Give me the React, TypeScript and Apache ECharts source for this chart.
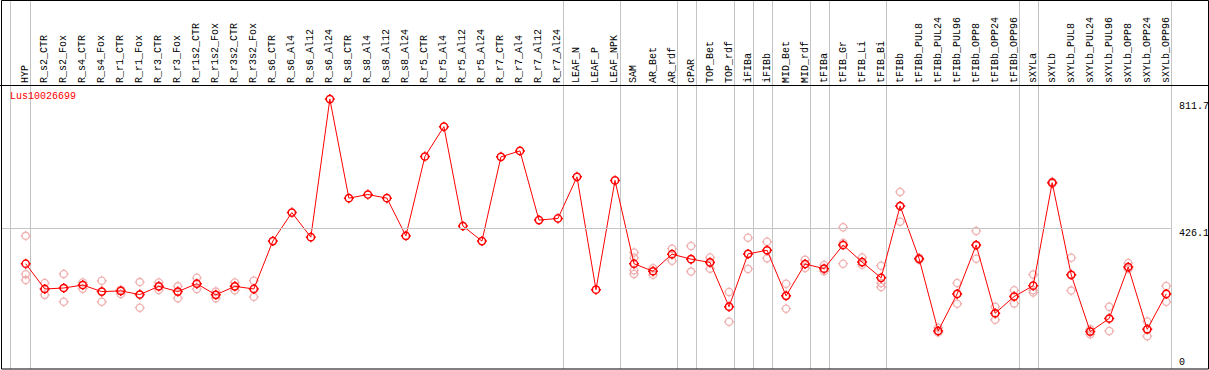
import React, { useEffect, useRef } from "react";
import * as echarts from "echarts";

const categories = [
  "HYP", "R_s2_CTR", "R_s2_Fox", "R_s4_CTR", "R_s4_Fox", "R_r1_CTR", "R_r1_Fox", "R_r3_CTR", "R_r3_Fox",
  "R_r1s2_CTR", "R_r1s2_Fox", "R_r3s2_CTR", "R_r3s2_Fox",
  "R_s6_CTR", "R_s6_Al4", "R_s6_Al12", "R_s6_Al24", "R_s8_CTR", "R_s8_Al4", "R_s8_Al12", "R_s8_Al24",
  "R_r5_CTR", "R_r5_Al4", "R_r5_Al12", "R_r5_Al24", "R_r7_CTR", "R_r7_Al4", "R_r7_Al12", "R_r7_Al24",
  "LEAF_N", "LEAF_P", "LEAF_NPK", "SAM", "AR_Bet", "AR_rdf", "cPAR", "TOP_Bet", "TOP_rdf",
  "iFIBa", "iFIBb", "MID_Bet", "MID_rdf", "tFIBa", "tFIB_Gr", "tFIB_Li", "tFIB_Bi",
  "tFIBb", "tFIBb_PUL8", "tFIBb_PUL24", "tFIBb_PUL96", "tFIBb_OPP8", "tFIBb_OPP24", "tFIBb_OPP96",
  "sXYLa", "sXYLb", "sXYLb_PUL8", "sXYLb_PUL24", "sXYLb_PUL96", "sXYLb_OPP8", "sXYLb_OPP24", "sXYLb_OPP96",
];

const seriesName = "Lus10026699";

const meanValues = [
  318, 241, 244, 253, 233, 235, 224, 249, 233, 257, 223, 249, 241,
  387, 474, 399, 820, 518, 529, 518, 403, 645, 736, 433, 387, 644, 662, 451, 456,
  583, 239, 572,
  318, 295, 347, 332, 322, 187, 348, 359, 220, 317, 303, 375, 323, 275,
  494, 333, 113, 226, 375, 167, 218,
  251, 565, 284, 111, 151, 308, 118, 226,
];

const replicateValues: number[][] = [
  [403, 286, 268],
  [259, 241, 223],
  [287, 244, 202],
  [261, 253, 242],
  [266, 233, 202],
  [239, 235, 226],
  [262, 224, 184],
  [261, 249, 238],
  [249, 233, 213],
  [275, 257, 241],
  [233, 223, 213],
  [261, 249, 237],
  [266, 241, 217],
  [], [], [], [], [], [], [], [], [], [], [], [], [], [], [], [],
  [], [], [],
  [352, 336, 298, 287],
  [304, 295, 284],
  [364, 347, 327],
  [372, 332, 294],
  [337, 322, 303],
  [232, 187, 141],
  [397, 348, 302],
  [385, 359, 335],
  [257, 220, 181],
  [330, 317, 305],
  [314, 303, 295],
  [429, 381, 318],
  [337, 323, 315],
  [312, 259, 247],
  [537, 494, 446],
  [336, 333, 330],
  [123, 113, 108],
  [259, 226, 196],
  [418, 374, 333],
  [187, 166, 147],
  [237, 218, 197],
  [285, 237, 230],
  [568, 565, 562],
  [336, 284, 236],
  [118, 111, 103],
  [187, 151, 113],
  [320, 308, 302],
  [142, 118, 97],
  [250, 226, 202],
];

// group separators (in category-index units)
const groupLines = [-0.84, 0.25, 28.25, 31.25, 34.25, 35.25, 37.25, 38.25, 39.25, 41.25, 42.25, 45.25, 52.25, 53.25, 60.25];

const yTickValues = [0, 426.1, 811.7];
const yTickLabels = ["0", "426.1", "811.7"];
const refLineValue = 426.1;

// circle (cubic approximation) with four short crosshair ticks
const SYMBOL =
  "path://M5 1.4 C6.988 1.4 8.6 3.012 8.6 5 C8.6 6.988 6.988 8.6 5 8.6 C3.012 8.6 1.4 6.988 1.4 5 C1.4 3.012 3.012 1.4 5 1.4 Z " +
  "M5 0 L5 1.4 M5 8.6 L5 10 M0 5 L1.4 5 M8.6 5 L10 5";

const FONT = "'Liberation Mono', 'DejaVu Sans Mono', monospace";

export default function App() {
  const ref = useRef<HTMLDivElement>(null);

  useEffect(() => {
    if (!ref.current) return;
    const chart = echarts.init(ref.current, null, { renderer: "svg" });

    const meanData = meanValues.map((v, i) => [i, v]);
    const repData: number[][] = [];
    replicateValues.forEach((arr, i) => arr.forEach((v) => repData.push([i, v])));

    chart.setOption({
      animation: false,
      grid: { left: 1, top: 85, width: 1170, height: 283 },
      xAxis: {
        type: "value",
        min: -1.3,
        max: 60.25,
        position: "top",
        axisLine: { show: false },
        axisTick: { show: false },
        splitLine: { show: false },
        axisLabel: {
          customValues: categories.map((_, i) => i),
          formatter: (v: number) => categories[Math.round(v)] ?? "",
          rotate: 90,
          fontSize: 10,
          fontFamily: FONT,
          color: "#000",
          margin: 2,
        },
      },
      yAxis: { type: "value", min: 0, max: 863, show: false },
      series: [
        {
          type: "scatter",
          name: "replicates",
          data: repData,
          symbol: SYMBOL,
          symbolSize: 10,
          z: 2,
          itemStyle: { color: "rgba(255,255,255,0)", borderColor: "#ec9c9c", borderWidth: 1.3 },
          markLine: {
            silent: true,
            symbol: "none",
            label: { show: false },
            lineStyle: { color: "#c4c4c4", width: 1, type: "solid" },
            data: [{ yAxis: refLineValue }],
          },
        },
        {
          type: "line",
          name: seriesName,
          data: meanData,
          symbol: SYMBOL,
          symbolSize: 10,
          z: 3,
          lineStyle: { color: "#ff0000", width: 1 },
          itemStyle: { color: "rgba(255,255,255,0)", borderColor: "#ff0000", borderWidth: 1.5 },
        },
      ],
    });

    const px = (v: number) => chart.convertToPixel({ xAxisIndex: 0 }, v) as number;
    const py = (v: number) => chart.convertToPixel({ yAxisIndex: 0 }, v) as number;

    const graphics: any[] = [];
    groupLines.forEach((g) => {
      const X = Math.round(px(g)) + 0.5;
      graphics.push({
        type: "line",
        z: 0,
        silent: true,
        shape: { x1: X, y1: 0, x2: X, y2: 369 },
        style: { stroke: "#c4c4c4", lineWidth: 1 },
      });
    });
    graphics.push({
      type: "rect",
      z: 10,
      silent: true,
      shape: { x: 1.5, y: 0.5, width: 1207, height: 368.5 },
      style: { fill: "none", stroke: "#000", lineWidth: 1 },
    });
    graphics.push({
      type: "line",
      z: 10,
      silent: true,
      shape: { x1: 0, y1: 85.5, x2: 1209, y2: 85.5 },
      style: { stroke: "#000", lineWidth: 1 },
    });
    yTickValues.forEach((v, k) => {
      const Y = py(v);
      const isZero = v === 0;
      graphics.push({
        type: "text",
        z: 10,
        silent: true,
        x: 1179,
        y: isZero ? Y - 1 : Y,
        style: {
          text: yTickLabels[k],
          fill: "#000",
          font: `10px ${FONT}`,
          align: "left",
          verticalAlign: isZero ? "bottom" : "top",
        },
      });
    });
    graphics.push({
      type: "text",
      z: 10,
      silent: true,
      x: 10,
      y: 91,
      style: { text: seriesName, fill: "#ff0000", font: `10px ${FONT}`, align: "left", verticalAlign: "top" },
    });
    chart.setOption({ graphic: graphics });

    return () => chart.dispose();
  }, []);

  return (
    <div
      ref={ref}
      style={{ position: "fixed", left: 0, top: 0, width: 1209, height: 370, background: "#fff" }}
    />
  );
}
